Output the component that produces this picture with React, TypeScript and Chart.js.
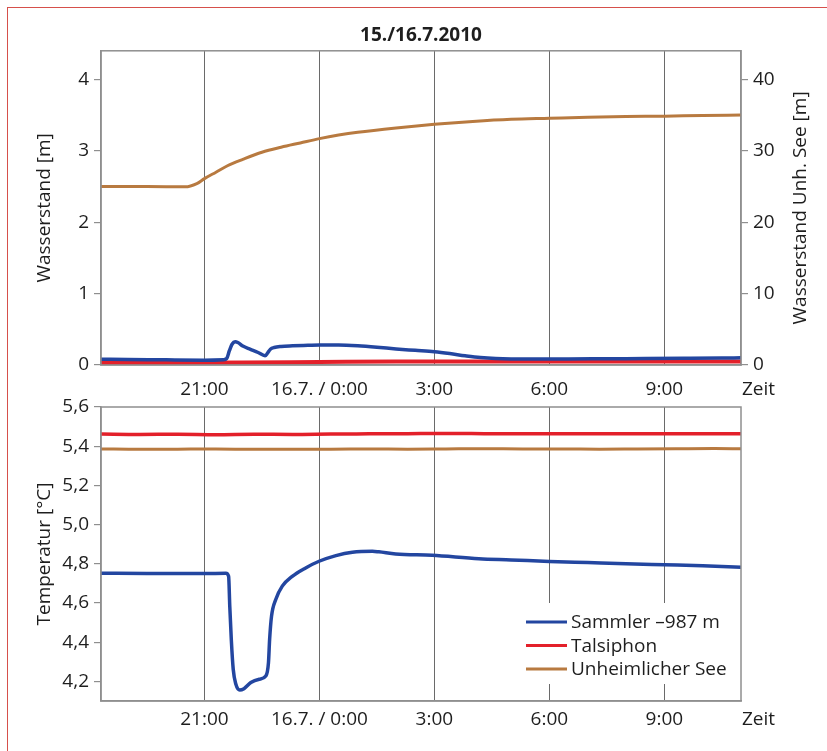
import { useEffect, useRef } from 'react';
import { Chart, registerables } from 'chart.js';

Chart.register(...registerables);

// ---------- data ----------
const timeTickValues = [21, 24, 27, 30, 33];
const timeTickLabels = ['21:00', '16.7. / 0:00', '3:00', '6:00', '9:00'];

const levelTickValues = [0, 1, 2, 3, 4];
const seeLevelTickValues = [0, 10, 20, 30, 40];
const tempTickValues = [4.2, 4.4, 4.6, 4.8, 5.0, 5.2, 5.4, 5.6];
const tempTickLabels = ['4,2', '4,4', '4,6', '4,8', '5,0', '5,2', '5,4', '5,6'];

const seriesLabels = ['Sammler –987 m', 'Talsiphon', 'Unheimlicher See'];

// Wasserstand [m] (hours since 15.7. 0:00)
const sammlerLevelTime = [18.3, 19.0, 20.0, 21.0, 21.5, 21.58, 21.65, 21.72, 21.8, 21.87, 22.0, 22.2, 22.4, 22.58, 22.65, 22.72, 22.82, 23.0, 23.3, 23.7, 24.0, 24.5, 25.0, 25.5, 26.0, 26.5, 27.0, 27.4, 27.8, 28.2, 28.6, 29.5, 30.5, 31.5, 32.5, 33.5, 34.5, 35.0];
const sammlerLevel = [0.08, 0.078, 0.072, 0.068, 0.075, 0.09, 0.2, 0.29, 0.325, 0.315, 0.265, 0.22, 0.175, 0.13, 0.17, 0.22, 0.245, 0.26, 0.268, 0.275, 0.28, 0.28, 0.27, 0.25, 0.225, 0.205, 0.185, 0.16, 0.13, 0.105, 0.092, 0.085, 0.085, 0.088, 0.09, 0.093, 0.097, 0.1];

const talsiphonLevelTime = [18.3, 20.0, 22.0, 24.0, 26.0, 28.0, 30.0, 32.0, 35.0];
const talsiphonLevel = [0.03, 0.032, 0.036, 0.042, 0.048, 0.05, 0.05, 0.05, 0.05];

// Wasserstand Unh. See [m] (right axis)
const seeLevelTime = [18.3, 19.5, 20.5, 20.8, 21.0, 21.3, 21.6, 22.0, 22.5, 23.0, 23.5, 24.0, 24.5, 25.0, 26.0, 27.0, 28.0, 29.0, 30.0, 31.0, 32.0, 33.0, 34.0, 35.0];
const seeLevel = [25.0, 25.0, 24.95, 25.4, 26.1, 27.0, 27.9, 28.8, 29.8, 30.5, 31.1, 31.7, 32.2, 32.6, 33.2, 33.7, 34.1, 34.4, 34.55, 34.7, 34.8, 34.85, 34.95, 35.0];

// Temperatur [°C]
const sammlerTempTime = [18.3, 19.5, 20.5, 21.0, 21.56, 21.63, 21.66, 21.70, 21.75, 21.82, 21.92, 22.03, 22.21, 22.43, 22.6, 22.67, 22.70, 22.75, 22.86, 23.03, 23.29, 23.64, 23.99, 24.43, 24.86, 25.38, 25.55, 25.99, 26.94, 28.16, 29.0, 30.0, 31.0, 32.0, 33.0, 34.0, 35.0];
const sammlerTemp = [4.752, 4.75, 4.751, 4.75, 4.752, 4.736, 4.584, 4.414, 4.262, 4.185, 4.156, 4.163, 4.194, 4.211, 4.227, 4.296, 4.414, 4.533, 4.618, 4.686, 4.736, 4.779, 4.813, 4.842, 4.859, 4.864, 4.861, 4.85, 4.843, 4.826, 4.82, 4.812, 4.806, 4.8, 4.795, 4.79, 4.783];

const hourlyTime = [18.3, 19.3, 20.3, 21.3, 22.3, 23.3, 24.3, 25.3, 26.3, 27.3, 28.3, 29.3, 30.3, 31.3, 32.3, 33.3, 34.3, 35.0];
const talsiphonTemp = [5.462, 5.46, 5.461, 5.459, 5.461, 5.46, 5.462, 5.463, 5.464, 5.465, 5.464, 5.463, 5.464, 5.463, 5.464, 5.463, 5.464, 5.463];
const seeTemp = [5.386, 5.384, 5.385, 5.386, 5.384, 5.385, 5.385, 5.386, 5.385, 5.386, 5.387, 5.386, 5.386, 5.385, 5.386, 5.387, 5.388, 5.387];

// ---------- style ----------
const FONT = '"Open Sans", "Noto Sans", "DejaVu Sans", sans-serif';
const TEXT = '#1e1e1e';
const BLUE = '#2346a0';
const RED = '#e3202a';
const BROWN = '#b87a40';
const GRID = '#6a6a6a';
const AXIS = '#8f8f8f';
const FS = 19;

const toPoints = (xs: number[], ys: number[]) => xs.map((x, i) => ({ x, y: ys[i] }));

const lineDs = (label: string, data: any, color: string, width: number, axis: string) => ({
  label,
  data,
  borderColor: color,
  backgroundColor: color,
  borderWidth: width,
  pointRadius: 0,
  fill: false,
  yAxisID: axis,
  cubicInterpolationMode: 'monotone' as const,
  borderJoinStyle: 'round' as const,
  borderCapStyle: 'round' as const,
});

const xScale = (padding: number, height: number) => ({
  type: 'linear' as const,
  min: 18.3,
  max: 35,
  afterBuildTicks: (s: any) => {
    s.ticks = timeTickValues.map((v) => ({ value: v }));
  },
  afterFit: (s: any) => {
    s.height = height;
  },
  ticks: {
    autoSkip: false,
    maxRotation: 0,
    padding,
    color: TEXT,
    font: { family: FONT, size: FS },
    callback: (_v: any, i: number) => timeTickLabels[i],
  },
  grid: { color: GRID, lineWidth: 1, drawTicks: false, drawOnChartArea: true },
  border: { color: AXIS, width: 1.5 },
});

const yScale = (position: 'left' | 'right', min: number, max: number, tickVals: number[], labels: string[] | null, width: number, title?: string) => ({
  type: 'linear' as const,
  position,
  min,
  max,
  afterBuildTicks: (s: any) => {
    s.ticks = tickVals.map((v) => ({ value: v }));
  },
  afterFit: (s: any) => {
    s.width = width;
    s.paddingTop = 0;
    s.paddingBottom = 0;
  },
  ticks: {
    padding: 5,
    color: TEXT,
    font: { family: FONT, size: FS },
    callback: (v: any, i: number) => (labels ? labels[i] : String(v)),
  },
  grid: { drawOnChartArea: false, tickLength: 7, color: AXIS, lineWidth: 1.2 },
  border: { color: AXIS, width: 1.5 },
  title: title
    ? { display: true, text: title, color: TEXT, font: { family: FONT, size: FS }, padding: { top: 33, bottom: 0 } }
    : { display: false },
});

const boxPlugin = (id: string, zeitOffset: number, extra?: (chart: any) => void) => ({
  id,
  afterDatasetsDraw(chart: any) {
    const { ctx, chartArea: a } = chart;
    ctx.save();
    ctx.strokeStyle = AXIS;
    ctx.lineWidth = 1.5;
    ctx.strokeRect(a.left, a.top, a.right - a.left, a.bottom - a.top);
    ctx.restore();
  },
  afterDraw(chart: any) {
    const { ctx, chartArea: a } = chart;
    if (extra) extra(chart);
    ctx.save();
    ctx.fillStyle = TEXT;
    ctx.font = `${FS}px ${FONT}`;
    ctx.textAlign = 'left';
    ctx.textBaseline = 'middle';
    ctx.fillText('Zeit', a.right + 1, a.bottom + zeitOffset);
    ctx.restore();
  },
});

export default function App() {
  const topRef = useRef<HTMLCanvasElement>(null);
  const botRef = useRef<HTMLCanvasElement>(null);

  useEffect(() => {
    const top = new Chart(topRef.current!, {
      type: 'line',
      data: {
        datasets: [
          lineDs(seriesLabels[0], toPoints(sammlerLevelTime, sammlerLevel), BLUE, 3.5, 'y'),
          lineDs(seriesLabels[1], toPoints(talsiphonLevelTime, talsiphonLevel), RED, 4, 'y'),
          lineDs(seriesLabels[2], toPoints(seeLevelTime, seeLevel), BROWN, 3, 'y2'),
        ],
      },
      options: {
        responsive: false,
        animation: false,
        layout: { padding: 0 },
        plugins: {
          legend: { display: false },
          tooltip: { enabled: false },
          title: {
            display: true,
            text: '15./16.7.2010',
            color: TEXT,
            fullSize: false,
            font: { family: FONT, size: FS, weight: 'bold' },
            padding: { top: 24, bottom: 4 },
          },
        },
        scales: {
          x: xScale(13, 30),
          y: yScale('left', 0, 4.4, levelTickValues, null, 101, 'Wasserstand [m]'),
          y2: yScale('right', 0, 44, seeLevelTickValues, null, 86),
        },
      } as any,
      plugins: [
        boxPlugin('topBox', 25, (chart: any) => {
          const { ctx, chartArea: a } = chart;
          ctx.save();
          ctx.fillStyle = TEXT;
          ctx.font = `${FS}px ${FONT}`;
          ctx.textAlign = 'center';
          ctx.textBaseline = 'middle';
          ctx.translate(801, (a.top + a.bottom) / 2);
          ctx.rotate(-Math.PI / 2);
          ctx.fillText('Wasserstand Unh. See [m]', 0, 0);
          ctx.restore();
        }),
      ],
    });

    const bot = new Chart(botRef.current!, {
      type: 'line',
      data: {
        datasets: [
          lineDs(seriesLabels[0], toPoints(sammlerTempTime, sammlerTemp), BLUE, 3.5, 'y'),
          lineDs(seriesLabels[1], toPoints(hourlyTime, talsiphonTemp), RED, 3.5, 'y'),
          lineDs(seriesLabels[2], toPoints(hourlyTime, seeTemp), BROWN, 3, 'y'),
        ],
      },
      options: {
        responsive: false,
        animation: false,
        layout: { padding: { top: 12, right: 86, left: 0, bottom: 0 } },
        plugins: {
          legend: { display: false },
          tooltip: { enabled: false },
          title: { display: false },
        },
        scales: {
          x: xScale(7, 50),
          y: yScale('left', 4.1, 5.6, tempTickValues, tempTickLabels, 101, 'Temperatur [°C]'),
        },
      } as any,
      plugins: [
        boxPlugin('botBox', 19, (chart: any) => {
          const { ctx, chartArea: a } = chart;
          ctx.save();
          ctx.fillStyle = '#ffffff';
          ctx.fillRect(a.right - 221, a.bottom - 98, 220, 81);
          ctx.font = `${FS}px ${FONT}`;
          ctx.textAlign = 'left';
          ctx.textBaseline = 'middle';
          chart.data.datasets.forEach((ds: any, i: number) => {
            const y = a.bottom - 79 + i * 23.5;
            ctx.strokeStyle = ds.borderColor;
            ctx.lineWidth = 3;
            ctx.beginPath();
            ctx.moveTo(a.right - 215, y);
            ctx.lineTo(a.right - 174, y);
            ctx.stroke();
            ctx.fillStyle = TEXT;
            ctx.fillText(ds.label, a.right - 170, y + 1);
          });
          ctx.restore();
        }),
      ],
    });

    return () => {
      top.destroy();
      bot.destroy();
    };
  }, []);

  return (
    <div style={{ position: 'fixed', left: 0, top: 0, width: 827, height: 751, overflow: 'hidden', background: '#fff' }}>
      <div
        style={{
          position: 'absolute',
          left: 7,
          top: 7,
          width: 1000,
          height: 1000,
          borderLeft: '1px solid #d6504b',
          borderTop: '1px solid #d6504b',
        }}
      />
      <canvas ref={topRef} width={827} height={395} style={{ position: 'absolute', left: 0, top: 0, display: 'block' }} />
      <canvas ref={botRef} width={827} height={356} style={{ position: 'absolute', left: 0, top: 395, display: 'block' }} />
    </div>
  );
}
